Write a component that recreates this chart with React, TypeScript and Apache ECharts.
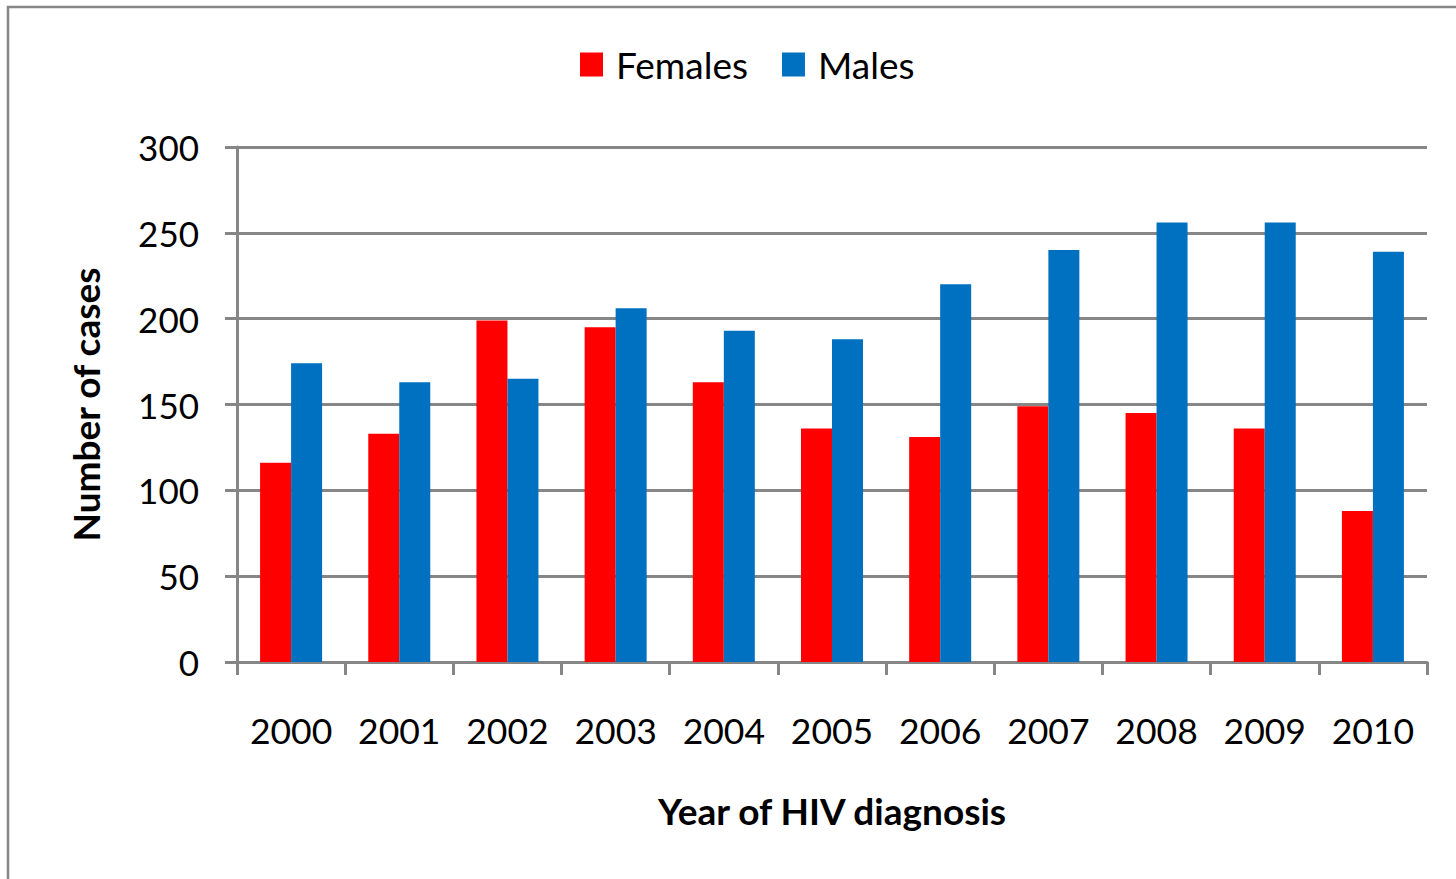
import React, { useEffect, useRef } from "react";
import * as echarts from "echarts";

const years = ["2000", "2001", "2002", "2003", "2004", "2005", "2006", "2007", "2008", "2009", "2010"];
const females = [116, 133, 199, 195, 163, 136, 131, 149, 145, 136, 88];
const males = [174, 163, 165, 206, 193, 188, 220, 240, 256, 256, 239];

const FONT = "Lato, 'Open Sans', sans-serif";
const GRAY = "#868686";

export default function App() {
  const ref = useRef<HTMLDivElement>(null);
  useEffect(() => {
    if (!ref.current) return;
    const chart = echarts.init(ref.current, null, { renderer: "svg" });
    chart.setOption({
      animation: false,
      backgroundColor: "#ffffff",
      textStyle: { fontFamily: FONT },
      graphic: [
        {
          type: "rect",
          shape: { x: 8, y: 7, width: 1460, height: 890 },
          style: { fill: "none", stroke: GRAY, lineWidth: 2.5 },
          silent: true,
        },
      ],
      legend: {
        top: 41,
        left: 575,
        itemWidth: 23,
        itemHeight: 24,
        itemGap: 34,
        icon: "rect",
        textStyle: { fontSize: 37, fontFamily: FONT, color: "#000", padding: [0, 0, 0, 8] },
        data: ["Females", "Males"],
      },
      grid: { left: 237, right: 29, top: 147, bottom: 217 },
      xAxis: {
        type: "category",
        data: years,
        axisLine: { show: true, lineStyle: { color: GRAY, width: 3 } },
        axisTick: { show: true, interval: 0, length: 13, lineStyle: { color: GRAY, width: 3 } },
        axisLabel: { interval: 0, fontSize: 35.5, color: "#000", margin: 50, fontFamily: FONT },
        name: "Year of HIV diagnosis",
        nameLocation: "middle",
        nameGap: 130,
        nameTextStyle: { fontSize: 37, fontWeight: "bold", color: "#000", fontFamily: FONT },
      },
      yAxis: {
        type: "value",
        min: 0,
        max: 300,
        interval: 50,
        axisLine: { show: true, lineStyle: { color: GRAY, width: 3 } },
        axisTick: { show: true, length: 12, lineStyle: { color: GRAY, width: 3 } },
        splitLine: { show: true, lineStyle: { color: GRAY, width: 3 } },
        axisLabel: { fontSize: 35, color: "#000", margin: 38, fontFamily: FONT },
        name: "Number of cases",
        nameLocation: "middle",
        nameGap: 133,
        nameTextStyle: { fontSize: 37, fontWeight: "bold", color: "#000", fontFamily: FONT },
      },
      series: [
        {
          name: "Females",
          type: "bar",
          data: females,
          barWidth: 31,
          barGap: "0%",
          itemStyle: { color: "#ff0000" },
        },
        {
          name: "Males",
          type: "bar",
          data: males,
          barWidth: 31,
          barGap: "0%",
          itemStyle: { color: "#0070c0" },
        },
      ],
    });
    return () => chart.dispose();
  }, []);
  return (
    <div
      ref={ref}
      style={{ position: "fixed", left: 0, top: 0, width: 1456, height: 879 }}
    />
  );
}
